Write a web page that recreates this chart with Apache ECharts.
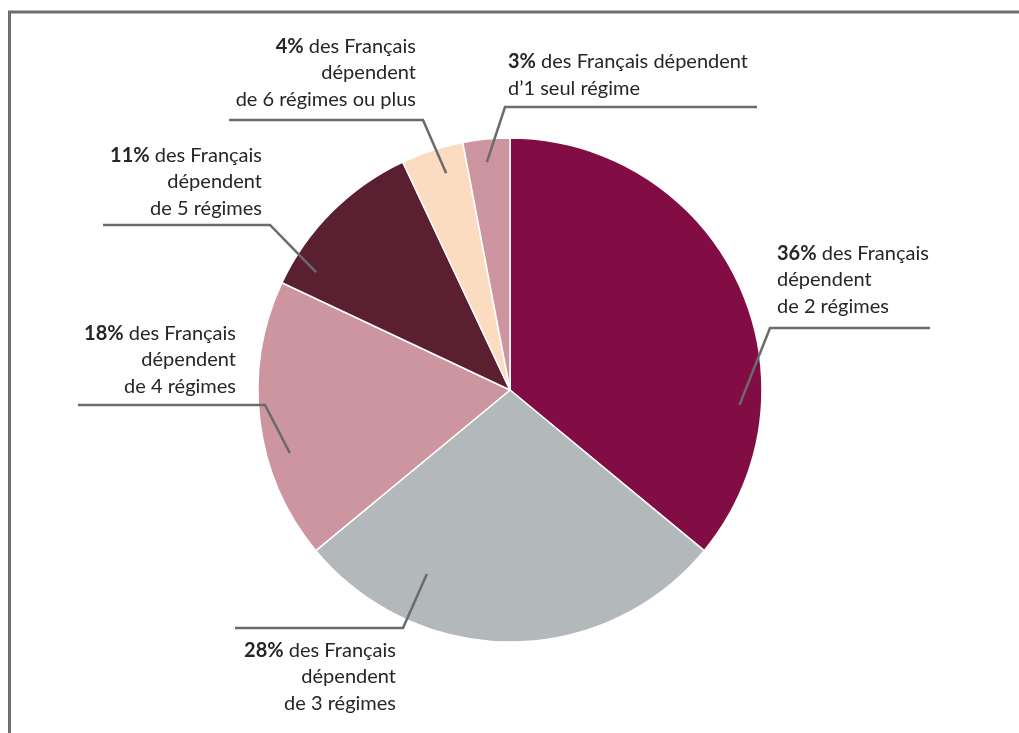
<!DOCTYPE html>
<html>
<head>
<meta charset="utf-8">
<script src="https://cdn.jsdelivr.net/npm/echarts@6/dist/echarts.min.js"></script>
<style>html,body{margin:0;padding:0;background:#fff}#c{width:1019px;height:733px}</style>
</head>
<body>
<div id="c"></div>
<script>
// ---- data ----
const categories = ['2 régimes', '3 régimes', '4 régimes', '5 régimes', '6 régimes ou plus', '1 seul régime'];
const values = [36, 28, 18, 11, 4, 3];
const labelTexts = [
  '{b|36%} des Français\ndépendent\nde 2 régimes',
  '{b|28%} des Français\ndépendent\nde 3 régimes',
  '{b|18%} des Français\ndépendent\nde 4 régimes',
  '{b|11%} des Français\ndépendent\nde 5 régimes',
  '{b|4%} des Français\ndépendent\nde 6 régimes ou plus',
  '{b|3%} des Français dépendent\nd’1 seul régime'
];
const colors = ['#820d45', '#b3b9bb', '#cc959f', '#5b1f32', '#fcdcc1', '#cc959f'];

// ---- layout (annotation placement) ----
const CX = 510, CY = 390, R = 252;
// leader start: [angle deg (math), radius px]; elbow, end; label anchor, align
const leaders = [
  {s: [-3.7, 230], e: [770, 328], f: [930, 328], t: [777, 280], a: 'left'},
  {s: [-114.3, 202], e: [403, 628], f: [235, 628], t: [396, 677], a: 'right'},
  {s: [-164, 229], e: [265, 405], f: [78, 405], t: [236, 360], a: 'right'},
  {s: [148.7, 227], e: [270, 225], f: [103, 225], t: [262, 182], a: 'right'},
  {s: [106.4, 226], e: [423, 120], f: [229, 120], t: [416, 73], a: 'right'},
  {s: [95.8, 229], e: [505, 107], f: [757, 107], t: [508, 75], a: 'left'}
];

const chart = echarts.init(document.getElementById('c'), null, {renderer: 'canvas'});
const FONT = 'Lato';
const FS = 20;
chart.setOption({
  backgroundColor: '#fff',
  animation: false,
  graphic: [{
    type: 'polyline',
    shape: {points: [[9.5, 760], [9.5, 12], [1040, 12]]},
    style: {stroke: '#6e6e6e', lineWidth: 3, fill: null},
    silent: true
  }],
  series: [{
    type: 'pie',
    z: 2,
    center: [CX, CY],
    radius: R,
    startAngle: 90,
    clockwise: true,
    data: values.map((v, i) => ({name: categories[i], value: v, itemStyle: {color: colors[i]}})),
    itemStyle: {borderColor: '#fff', borderWidth: 1.5},
    label: {show: false},
    labelLine: {show: false}
  }, {
    type: 'pie',
    z: 5,
    silent: true,
    center: [CX, CY],
    radius: R,
    startAngle: 90,
    clockwise: true,
    data: values.map((v, i) => ({
      name: categories[i],
      value: v,
      label: {formatter: labelTexts[i], align: leaders[i].a}
    })),
    itemStyle: {color: 'rgba(0,0,0,0)', borderWidth: 0},
    label: {
      show: true,
      position: 'outside',
      color: '#262626',
      fontFamily: FONT,
      fontSize: FS,
      lineHeight: 26.5,
      rich: {b: {fontWeight: 'bold', fontFamily: FONT, fontSize: FS, color: '#262626', lineHeight: 26.5}}
    },
    labelLine: {show: true, lineStyle: {color: '#6b6b6b', width: 2.5}},
    labelLayout: function (p) {
      const L = leaders[p.dataIndex];
      const ang = L.s[0] * Math.PI / 180;
      const sx = CX + L.s[1] * Math.cos(ang), sy = CY - L.s[1] * Math.sin(ang);
      return {
        x: L.t[0], y: L.t[1], align: L.a, verticalAlign: 'middle',
        labelLinePoints: [[sx, sy], L.e, L.f]
      };
    }
  }]
});
</script>
</body>
</html>
